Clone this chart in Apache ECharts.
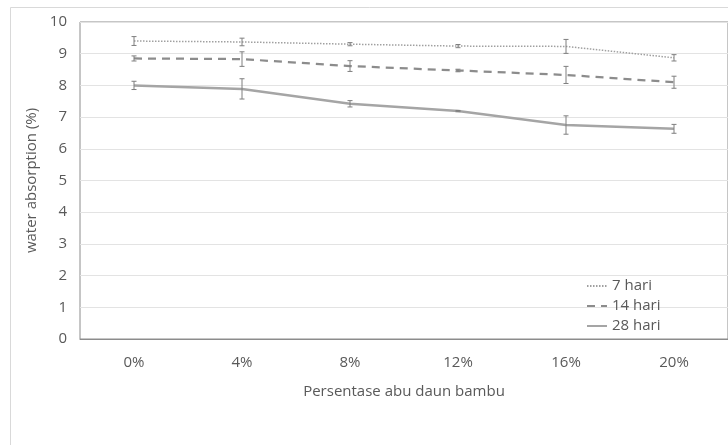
<!DOCTYPE html>
<html><head><meta charset="utf-8">
<script src="https://cdn.jsdelivr.net/npm/echarts@6/dist/echarts.min.js"></script>
<style>html,body{margin:0;padding:0;background:#fff}#c{width:728px;height:445px}</style>
</head><body><div id="c"></div>
<script>
const categories = ['0%', '4%', '8%', '12%', '16%', '20%'];
const seriesNames = ['7 hari', '14 hari', '28 hari'];
const values7 = [9.40, 9.37, 9.30, 9.24, 9.23, 8.87];
const values14 = [8.85, 8.83, 8.61, 8.47, 8.33, 8.10];
const values28 = [8.00, 7.89, 7.42, 7.19, 6.75, 6.63];
const err7 = [0.14, 0.12, 0.05, 0.05, 0.22, 0.10];
const err14 = [0.08, 0.23, 0.17, 0.04, 0.27, 0.19];
const err28 = [0.13, 0.32, 0.10, 0.02, 0.29, 0.14];
const yTicks = [0, 1, 2, 3, 4, 5, 6, 7, 8, 9, 10];

const FONT = '"Open Sans", Lato, sans-serif';
const TXT = '#595959';

function errSeries(vals, errs) {
  return {
    type: 'custom',
    silent: true,
    z: 5,
    data: vals.map((v, i) => [i, v, errs[i]]),
    renderItem: function (params, api) {
      const i = api.value(0), v = api.value(1), e = api.value(2);
      const top = api.coord([i, v + e]);
      const bot = api.coord([i, v - e]);
      const cw = 2.5;
      const st = { stroke: '#7f7f7f', lineWidth: 1 };
      return {
        type: 'group',
        children: [
          { type: 'line', shape: { x1: top[0], y1: top[1], x2: bot[0], y2: bot[1] }, style: st },
          { type: 'line', shape: { x1: top[0] - cw, y1: top[1], x2: top[0] + cw, y2: top[1] }, style: st },
          { type: 'line', shape: { x1: bot[0] - cw, y1: bot[1], x2: bot[0] + cw, y2: bot[1] }, style: st }
        ]
      };
    }
  };
}

const chart = echarts.init(document.getElementById('c'));
chart.setOption({
  animation: false,
  backgroundColor: '#fff',
  textStyle: { fontFamily: FONT },
  graphic: [{
    type: 'rect', silent: true, z: -10,
    shape: { x: 10.5, y: 7.5, width: 800, height: 600 },
    style: { fill: 'none', stroke: '#d9d9d9', lineWidth: 1 }
  }],
  grid: { left: 80, right: 0, top: 22, bottom: 106, show: true, borderColor: '#8c8c8c', borderWidth: 1, containLabel: false },
  legend: {
    data: seriesNames,
    orient: 'vertical',
    left: 586, top: 278.5, padding: 0,
    itemWidth: 20, itemHeight: 14, itemGap: 5,
    itemStyle: { opacity: 0, borderWidth: 0 },
    textStyle: { fontFamily: FONT, fontSize: 15, color: TXT }
  },
  xAxis: {
    type: 'category',
    data: categories,
    boundaryGap: true,
    axisLine: { show: true, lineStyle: { color: '#8c8c8c', width: 1 } },
    axisTick: { show: false },
    axisLabel: { color: TXT, fontSize: 15, fontFamily: FONT, margin: 16 },
    name: 'Persentase abu daun bambu',
    nameLocation: 'middle',
    nameGap: 45,
    nameTextStyle: { color: TXT, fontSize: 15, fontFamily: FONT }
  },
  yAxis: {
    type: 'value',
    min: yTicks[0], max: yTicks[yTicks.length - 1], interval: 1,
    axisLine: { show: false },
    axisTick: { show: false },
    axisLabel: { color: TXT, fontSize: 15, fontFamily: FONT, margin: 13 },
    splitLine: { show: true, lineStyle: { color: '#e3e3e3', width: 1 } },
    name: 'water absorption (%)',
    nameLocation: 'middle',
    nameGap: 33,
    nameTextStyle: { color: TXT, fontSize: 15, fontFamily: FONT }
  },
  series: [
    { name: seriesNames[0], type: 'line', data: values7, symbol: 'none', z: 3,
      lineStyle: { color: '#a0a0a0', width: 1.5, type: [1.5, 1.5] }, itemStyle: { color: '#a0a0a0' } },
    { name: seriesNames[1], type: 'line', data: values14, symbol: 'none', z: 3,
      lineStyle: { color: '#8c8c8c', width: 2.25, type: [8, 6] }, itemStyle: { color: '#8c8c8c' } },
    { name: seriesNames[2], type: 'line', data: values28, symbol: 'none', z: 3,
      lineStyle: { color: '#a5a5a5', width: 2.5 }, itemStyle: { color: '#a5a5a5' } },
    errSeries(values7, err7),
    errSeries(values14, err14),
    errSeries(values28, err28)
  ]
});
</script></body></html>
